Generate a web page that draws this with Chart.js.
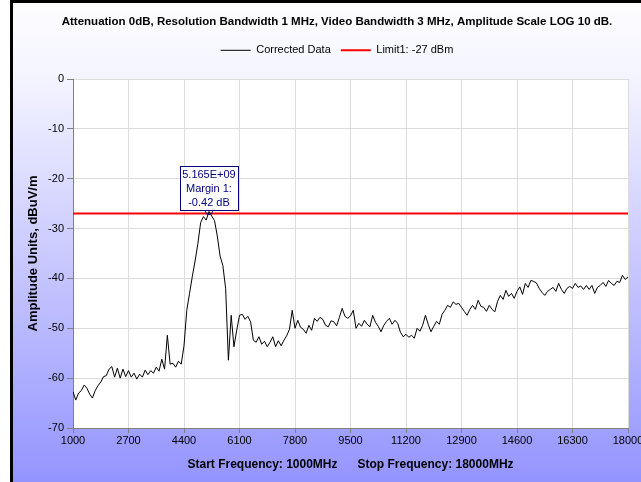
<!DOCTYPE html>
<html>
<head>
<meta charset="utf-8">
<style>
  html, body { margin: 0; padding: 0; background: #fff; }
  canvas { display: block; }
</style>
<script src="https://cdn.jsdelivr.net/npm/chart.js@4.4.1/dist/chart.umd.min.js"></script>
</head>
<body>
<canvas id="chart" width="641" height="482"></canvas>
<script>
/* Spectrum scan: corrected data trace, limit line, peak margin marker */

const TITLE = 'Attenuation 0dB, Resolution Bandwidth 1 MHz, Video Bandwidth 3 MHz, Amplitude Scale LOG 10 dB.';
const X_TITLE = 'Start Frequency: 1000MHz      Stop Frequency: 18000MHz';
const Y_TITLE = 'Amplitude Units, dBuV/m';

const X_TICKS = [1000, 2700, 4400, 6100, 7800, 9500, 11200, 12900, 14600, 16300, 18000];
const Y_TICKS = [0, -10, -20, -30, -40, -50, -60, -70];

// sweep 1000..18000 MHz, one reading every 85 MHz
const FREQ_START = 1000;
const FREQ_STEP = 85;
const LEVELS = [
  -62.7, -64.4, -63.0, -62.5, -61.4, -62.0, -63.2, -64.0, -62.5, -61.5,
  -60.8, -59.7, -59.5, -58.2, -57.7, -59.8, -58.0, -60.0, -58.2, -59.7,
  -58.5, -59.8, -59.0, -60.2, -59.2, -59.8, -58.4, -59.3, -58.5, -59.0,
  -57.8, -58.6, -56.2, -58.2, -51.4, -57.2, -57.0, -57.8, -56.6, -57.2,
  -53.5, -46.4, -43.0, -39.6, -36.5, -33.0, -28.8, -27.6, -28.3, -26.58,
  -27.5, -28.4, -31.5, -35.5, -37.4, -42.0, -56.4, -47.4, -53.7, -50.4,
  -47.4, -47.2, -48.2, -47.6, -48.7, -52.4, -52.8, -51.7, -53.2, -52.6,
  -53.7, -52.8, -51.7, -53.7, -52.5, -53.5, -52.4, -51.5, -50.2, -46.4,
  -50.0, -48.4, -49.8, -50.2, -51.0, -49.4, -50.4, -48.0, -48.6, -47.8,
  -48.2, -49.4, -49.7, -48.5, -48.7, -49.5, -47.8, -46.0, -47.6, -48.0,
  -47.5, -46.4, -50.0, -49.0, -49.6, -48.4, -49.2, -49.7, -47.4, -48.8,
  -49.6, -50.7, -49.4, -48.6, -48.0, -49.2, -48.4, -49.0, -50.8, -51.7,
  -51.2, -51.8, -51.4, -52.0, -50.0, -50.6, -49.4, -47.4, -49.2, -50.7,
  -49.6, -48.6, -49.2, -47.2, -46.4, -45.4, -45.8, -44.7, -45.2, -45.0,
  -45.8, -46.6, -47.4, -46.2, -45.4, -46.2, -44.4, -45.6, -45.8, -46.6,
  -45.4, -46.2, -46.7, -44.6, -43.4, -44.2, -42.4, -43.6, -43.0, -44.0,
  -42.6, -41.7, -43.2, -41.0, -41.8, -40.4, -40.6, -40.9, -42.0, -42.8,
  -43.4, -42.6, -42.2, -41.8, -42.6, -41.0, -42.2, -43.0, -42.0, -41.6,
  -42.0, -41.0, -41.8, -41.5, -42.2, -41.4, -42.2, -41.4, -43.0, -41.8,
  -41.4, -40.8, -41.6, -40.4, -41.0, -41.4, -40.6, -40.8, -39.4, -40.2,
  -39.7
];
const FREQS = LEVELS.map((_, i) => FREQ_START + i * FREQ_STEP);

const LIMIT = -27;
const LIMIT_SPAN = [1000, 18000];
const PEAK_FREQ = 5165;
const PEAK_MARGIN = -0.42;
const PEAK_LABEL = ['5.165E+09', 'Margin 1:', '-0.42 dB'];

const NAVY = '#000080';
const GRID = '#dcdcdc';
const AXIS = '#808080';
const FONT = 'Liberation Sans';

Chart.defaults.font.family = FONT;
Chart.defaults.color = '#000';

const backdrop = {
  id: 'backdrop',
  beforeDraw(chart) {
    const { ctx, width, height, chartArea: a } = chart;
    ctx.save();
    ctx.fillStyle = '#fff';
    ctx.fillRect(0, 0, width, height);
    const g = ctx.createLinearGradient(0, 0, 0, height);
    g.addColorStop(0, '#fdfdff');
    g.addColorStop(0.15, '#f5f5ff');
    g.addColorStop(1, '#9494ff');
    ctx.fillStyle = g;
    ctx.fillRect(13, 3, width - 13, height - 3);
    ctx.fillStyle = '#000';
    ctx.fillRect(10, 0, 3, height);
    ctx.fillRect(10, 0, width - 10, 3);
    ctx.fillStyle = '#fff';
    ctx.fillRect(a.left, a.top, a.right - a.left, a.bottom - a.top);
    ctx.restore();
  }
};

const peakMarker = {
  id: 'peakMarker',
  afterDatasetsDraw(chart) {
    const { ctx, scales: { x, y } } = chart;
    const px = x.getPixelForValue(PEAK_FREQ);
    const py = y.getPixelForValue(LIMIT - PEAK_MARGIN);
    ctx.save();
    ctx.strokeStyle = NAVY;
    ctx.lineWidth = 1;
    ctx.beginPath();
    ctx.ellipse(px, py, 3.5, 3, 0, 0, Math.PI * 2);
    ctx.stroke();
    const w = 58, h = 44;
    const bx = Math.round(px - w / 2) + 0.5;
    const by = Math.round(py - 2 - h) + 0.5;
    ctx.fillStyle = '#fff';
    ctx.fillRect(bx, by, w, h);
    ctx.strokeRect(bx, by, w, h);
    ctx.fillStyle = NAVY;
    ctx.font = '11px "' + FONT + '"';
    ctx.textAlign = 'center';
    ctx.textBaseline = 'middle';
    PEAK_LABEL.forEach((t, i) => ctx.fillText(t, px, by + 8 + i * 14));
    ctx.restore();
  }
};

new Chart(document.getElementById('chart'), {
  type: 'line',
  data: {
    datasets: [
      {
        label: 'Corrected Data',
        data: FREQS.map((f, i) => ({ x: f, y: LEVELS[i] })),
        borderColor: '#000', borderWidth: 1, pointRadius: 0, tension: 0,
      },
      {
        label: 'Limit1: -27 dBm',
        data: LIMIT_SPAN.map((f) => ({ x: f, y: LIMIT })),
        borderColor: '#ff0000', borderWidth: 2, pointRadius: 0,
      },
    ],
  },
  options: {
    responsive: false,
    animation: false,
    devicePixelRatio: 1,
    events: [],
    layout: { padding: { left: 46, right: 13, top: 0, bottom: 0 } },
    plugins: {
      tooltip: { enabled: false },
      title: {
        display: true, text: TITLE, color: '#000',
        font: { size: 11.5, weight: 'bold' },
        padding: { top: 15, bottom: 6 },
      },
      legend: {
        weight: 1000,
        labels: {
          usePointStyle: true, pointStyle: 'line', pointStyleWidth: 30,
          font: { size: 11 }, color: '#000', padding: 10,
        },
      },
      // empty spacer between legend and plot
      subtitle: { display: true, text: '', weight: 500, font: { size: 11 }, padding: 0 },
    },
    scales: {
      x: {
        type: 'linear', min: 1000, max: 18000,
        afterBuildTicks: (s) => { s.ticks = X_TICKS.map((v) => ({ value: v })); },
        afterFit: (s) => { s.height = 54; s.paddingLeft = 0; s.paddingRight = 0; },
        ticks: { callback: (v) => String(v), font: { size: 11 }, color: '#000', padding: 1, maxRotation: 0, autoSkip: false },
        grid: { color: GRID, tickColor: AXIS, tickLength: 5 },
        border: { color: AXIS },
        title: { display: true, text: X_TITLE, color: '#000', font: { size: 12, weight: 'bold' }, padding: { top: 4, bottom: 9.8 } },
      },
      y: {
        min: -70, max: 0,
        afterBuildTicks: (s) => { s.ticks = Y_TICKS.map((v) => ({ value: v })); },
        afterFit: (s) => { s.width = 27; },
        ticks: { callback: (v) => String(v), font: { size: 11 }, color: '#000', padding: 3 },
        grid: { color: GRID, tickColor: AXIS, tickLength: 6 },
        border: { color: AXIS },
        title: { display: true, text: Y_TITLE, color: '#000', font: { size: 13, weight: 'bold' }, padding: { top: -20.8, bottom: 0 } },
      },
    },
  },
  plugins: [backdrop, peakMarker],
});
</script>
</body>
</html>
